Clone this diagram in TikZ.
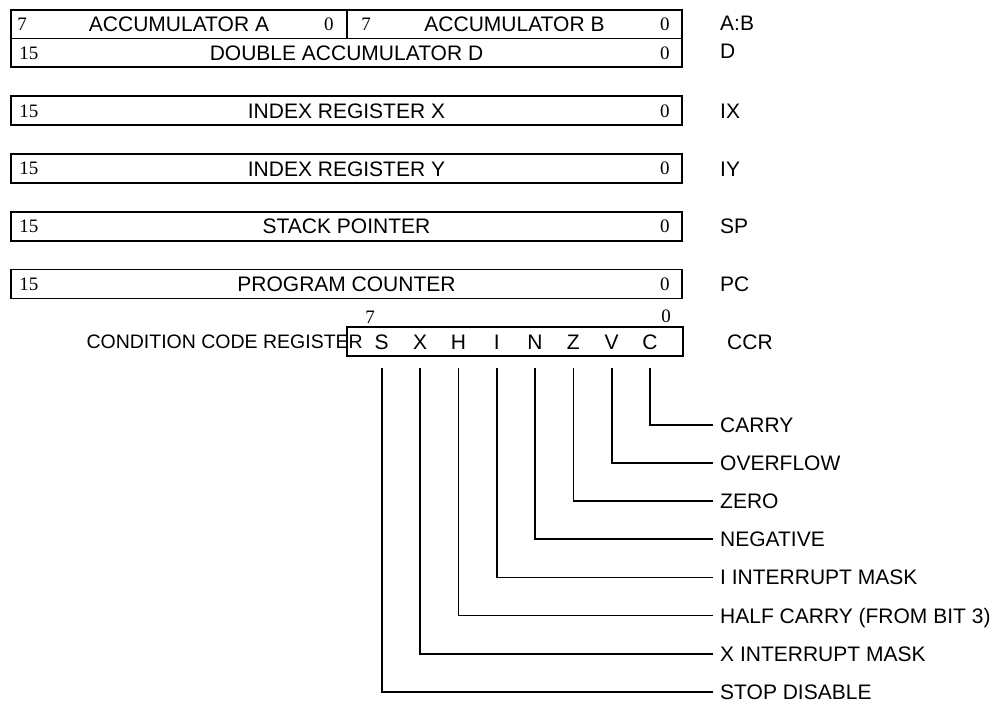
\documentclass[tikz,border=0pt]{standalone}
\usepackage{fontspec}
\setmainfont{Liberation Serif}
\setsansfont{Liberation Sans}
\usetikzlibrary{calc}
\tikzset{
  reg/.style={draw, line width=1.8pt, inner sep=0pt},
  txt/.style={font=\sffamily\fontsize{21}{25}\selectfont, inner sep=0pt, text height=15pt, text depth=0pt},
  small/.style={font=\sffamily\fontsize{19.5}{23}\selectfont, inner sep=0pt, text height=14pt, text depth=0pt},
  num/.style={font=\rmfamily\fontsize{19}{22}\selectfont, inner sep=0pt, text height=12.8pt, text depth=0pt},
  side/.style={txt, anchor=west},
  flag/.style={txt, anchor=west, inner xsep=7pt},
  wire/.style={line width=1.8pt},
}
\begin{document}
\begin{tikzpicture}[x=1pt,y=-1pt]
\useasboundingbox (0,0) rectangle (999,705);
% accumulators
\node[reg, minimum width=336pt, minimum height=28.5pt] (accA) at (179,24.25) {};
\node[reg, minimum width=335pt, minimum height=28.5pt] (accB) at (514.5,24.25) {};
\node[reg, minimum width=671pt, minimum height=28.5pt] (accD) at (346.5,52.75) {};
\node[num, anchor=west] (a7) at ([xshift=7pt]accA.west) {7};
\node[txt] (aname) at (accA) {ACCUMULATOR A};
\node[num, anchor=east] (a0) at ([xshift=-14pt]accA.east) {0};
\node[num, anchor=west] (b7) at ([xshift=15pt]accB.west) {7};
\node[txt] (bname) at (accB) {ACCUMULATOR B};
\node[num, anchor=east] (b0) at ([xshift=-13pt]accB.east) {0};
\node[num, anchor=west] (d15) at ([xshift=9pt]accD.west) {15};
\node[txt] (dname) at (accD) {DOUBLE ACCUMULATOR D};
\node[num, anchor=east] (d0) at ([xshift=-13pt]accD.east) {0};
\node[side] (labAB) at (720,23) {A:B};
\node[side] (labD) at (720,51) {D};
% 16-bit registers
\foreach \nm/\yy/\tx/\lb in {ix/110.8/INDEX REGISTER X/IX, iy/168.5/INDEX REGISTER Y/IY, sp/226.2/STACK POINTER/SP, pc/284/PROGRAM COUNTER/PC}{
  \node[reg, minimum width=671pt, minimum height=29pt] (\nm) at (346.5,\yy) {};
  \node[num, anchor=west] (\nm15) at ([xshift=9pt]\nm.west) {15};
  \node[txt] (\nm name) at (\nm) {\tx};
  \node[num, anchor=east] (\nm0) at ([xshift=-13pt]\nm.east) {0};
  \node[side] (lab\nm) at (720,\yy) {\lb};
}
% CCR
\node[reg, minimum width=336pt, minimum height=29pt] (ccr) at (515,341.5) {};
\node[num] (ccr7) at (370,317) {7};
\node[num] (ccr0) at (666,316) {0};
\node[small, anchor=east] (ccrname) at (363,341.5) {CONDITION CODE REGISTER};
\node[side] (labccr) at (727,341.5) {CCR};
\node[txt] (bS) at (381.7,341.5) {S};
\node[txt] (bX) at (420.0,341.5) {X};
\node[txt] (bH) at (458.4,341.5) {H};
\node[txt] (bI) at (496.7,341.5) {I};
\node[txt] (bN) at (535.0,341.5) {N};
\node[txt] (bZ) at (573.4,341.5) {Z};
\node[txt] (bV) at (611.7,341.5) {V};
\node[txt] (bC) at (650.0,341.5) {C};
\node[flag] (fC) at (713,425.0) {CARRY};
\node[flag] (fV) at (713,463.1) {OVERFLOW};
\node[flag] (fZ) at (713,501.2) {ZERO};
\node[flag] (fN) at (713,539.3) {NEGATIVE};
\node[flag] (fI) at (713,577.4) {I INTERRUPT MASK};
\node[flag] (fH) at (713,615.5) {HALF CARRY (FROM BIT 3)};
\node[flag] (fX) at (713,653.6) {X INTERRUPT MASK};
\node[flag] (fS) at (713,691.7) {STOP DISABLE};
\foreach \b in {S,X,H,I,N,Z,V,C}{
  \draw[wire] ($(b\b |- ccr.south)+(0,11)$) |- (f\b.west);
}
\end{tikzpicture}
\end{document}
